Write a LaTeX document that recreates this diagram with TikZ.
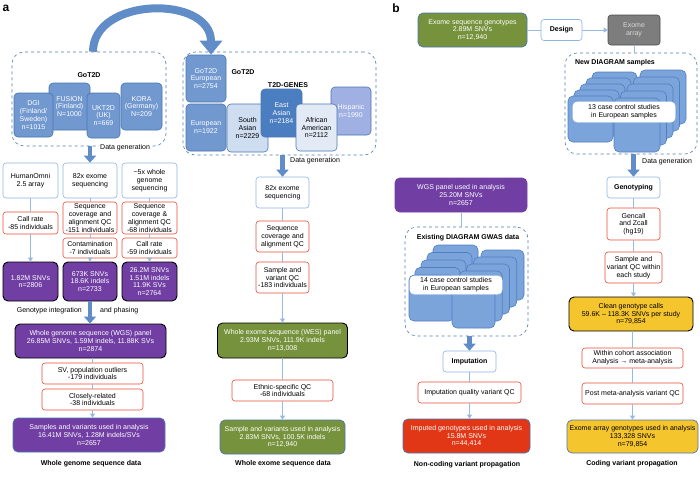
\documentclass[tikz,border=0pt]{standalone}
\usepackage{fontspec}
\setmainfont{Liberation Sans}
\usetikzlibrary{arrows.meta}

\definecolor{cohort}{RGB}{113,152,207}
\definecolor{cohortedge}{RGB}{74,118,176}
\definecolor{eastblue}{RGB}{74,126,192}
\definecolor{southblue}{RGB}{207,221,241}
\definecolor{afroblue}{RGB}{226,234,246}
\definecolor{hispblue}{RGB}{160,176,226}
\definecolor{stackblue}{RGB}{123,164,219}
\definecolor{stackedge}{RGB}{79,127,192}
\definecolor{vpurple}{RGB}{113,63,163}
\definecolor{volive}{RGB}{118,146,60}
\definecolor{vyellow}{RGB}{245,197,45}
\definecolor{vred}{RGB}{226,55,22}
\definecolor{vgray}{RGB}{125,125,125}
\definecolor{boxline}{RGB}{141,180,226}
\definecolor{qcline}{RGB}{232,78,56}
\definecolor{linkline}{RGB}{150,186,228}
\definecolor{dashline}{RGB}{82,122,176}
\definecolor{arrowblue}{RGB}{96,140,200}

\newcommand{\fs}{\fontsize{7}{7.8}\selectfont}

\tikzset{
	box/.style={draw=boxline, fill=white, rounded corners=3pt, align=center, inner sep=1pt, font=\fs, line width=0.6pt},
	boldbox/.style={box, font=\fs\bfseries},
	qcbox/.style={box, draw=qcline},
	cohortbox/.style={box, fill=cohort, draw=cohortedge, text=white, rounded corners=4pt},
	purplebox/.style={box, fill=vpurple, draw=black, line width=0.9pt, text=white, rounded corners=5pt},
	purplefinal/.style={purplebox, draw=cohortedge, line width=0.7pt},
	olivebox/.style={box, fill=volive, draw=black, line width=0.9pt, text=white, rounded corners=5pt},
	olivefinal/.style={olivebox, draw=cohortedge, line width=0.7pt},
	yellowbox/.style={box, fill=vyellow, draw=black, line width=0.9pt, rounded corners=5pt},
	yellowfinal/.style={yellowbox, draw=cohortedge, line width=0.7pt},
	redfinal/.style={box, fill=vred, draw=cohortedge, line width=0.7pt, text=white, rounded corners=5pt},
	graybox/.style={box, fill=vgray, draw=black!70, text=black!15},
	grp/.style={draw=dashline, dashed, rounded corners=12pt, line width=0.6pt, inner sep=0pt},
	stackbox/.style={draw=stackedge, fill=stackblue, rounded corners=5pt, line width=0.6pt},
	stacklab/.style={box, draw=white, rounded corners=4pt},
	note/.style={font=\fs, inner sep=1pt},
	bold/.style={font=\fs\bfseries, inner sep=1pt},
	title/.style={font=\fs\bfseries, inner sep=1pt},
	tag/.style={font=\fontsize{12}{12}\selectfont\bfseries, inner sep=0pt},
	link/.style={draw=linkline, line width=0.7pt},
	linkarr/.style={link, -{Triangle[length=4pt,width=5pt]}},
	blockarr/.style={draw=arrowblue, line width=4.5pt, -{Triangle[length=7pt,width=12pt]}},
	bigarc/.style={draw=arrowblue, line width=8pt, -{Triangle[length=14pt,width=22pt]}}
}

\begin{document}
\begin{tikzpicture}[x=1pt, y=-1pt]
	\useasboundingbox (0,0) rectangle (700,483);
	\node[tag] (taga) at (6,8) {a};
	\node[tag] (tagb) at (396,8) {b};

	\node[grp, minimum width=154pt, minimum height=94pt] (gotd) at (89,99) {};
	\node[bold] (gotdlab) at (89,75) {GoT2D};
	\node[cohortbox, minimum width=41pt, minimum height=47pt] (fusion) at (69.5,106.5) {FUSION\\(Finland)\\N=1000};
	\node[cohortbox, minimum width=41pt, minimum height=47pt] (kora) at (141.5,106.5) {KORA\\(Germany)\\N=209};
	\node[cohortbox, minimum width=39pt, minimum height=44pt] (dgi) at (33.5,115) {DGI\\(Finland/\\Sweden)\\n=1015};
	\node[cohortbox, minimum width=33pt, minimum height=45pt] (ukt) at (103.5,115.5) {UKT2D\\(UK)\\n=669};

	\node[grp, minimum width=193pt, minimum height=103pt] (genes) at (279.5,103.5) {};
	\node[cohortbox, minimum width=40pt, minimum height=47pt] (eurgot) at (206,78.5) {GoT2D\\European\\n=2754};
	\node[bold] (gotdlabb) at (243,72) {GoT2D};
	\node[bold] (geneslab) at (288,85) {T2D-GENES};
	\node[cohortbox, minimum width=40pt, minimum height=47pt] (eur) at (206,127.5) {European\\n=1922};
	\node[cohortbox, fill=hispblue, minimum width=40pt, minimum height=48pt] (hisp) at (351,111) {Hispanic\\n=1990};
	\node[cohortbox, fill=southblue, text=black, minimum width=41pt, minimum height=48pt] (sasian) at (247.5,128) {South\\Asian\\n=2229};
	\node[cohortbox, fill=eastblue, minimum width=41pt, minimum height=48pt] (easian) at (281.5,113) {East\\Asian\\n=2184};
	\node[cohortbox, fill=afroblue, text=black, minimum width=41pt, minimum height=47pt] (afam) at (316.5,127.5) {African\\American\\n=2112};

	\draw[bigarc] ([xshift=4pt]gotd.north) .. controls +(0,-55) and +(0,-60) .. ([xshift=5pt]eurgot.north);

	\node[box, minimum width=55pt, minimum height=35pt] (omni) at (30.5,180.5) {HumanOmni\\2.5 array};
	\node[box, minimum width=54pt, minimum height=35pt] (exoa) at (90,180.5) {82x exome\\sequencing};
	\node[box, minimum width=55pt, minimum height=35pt] (wgsfive) at (149.5,180.5) {\textasciitilde 5x whole\\genome\\sequencing};
	\draw[blockarr] (gotd.south -| exoa.north) -- (exoa.north);
	\node[note, fill=white, anchor=west] (dgena) at (99,147.5) {Data generation};

	\node[qcbox, minimum width=55pt, minimum height=22pt] (crfirst) at (30.5,223) {Call rate\\-85 individuals};
	\node[qcbox, minimum width=54pt, minimum height=32pt] (seqa) at (90,218) {Sequence\\coverage and\\alignment QC\\-151 individuals};
	\node[qcbox, minimum width=54pt, minimum height=20pt] (contam) at (90,248) {Contamination\\-7 individuals};
	\node[qcbox, minimum width=55pt, minimum height=32pt] (seqb) at (149.5,218) {Sequence\\coverage \&\\alignment QC\\-68 individuals};
	\node[qcbox, minimum width=55pt, minimum height=20pt] (crsecond) at (149.5,248) {Call rate\\-59 individuals};
	\node[purplebox, minimum width=55pt, minimum height=39pt] (snva) at (30.5,281.5) {1.82M SNVs\\n=2806};
	\node[purplebox, minimum width=54pt, minimum height=39pt] (snvb) at (90,281.5) {673K SNVs\\18.6K indels\\n=2733};
	\node[purplebox, minimum width=55pt, minimum height=39pt] (snvc) at (149.5,281.5) {26.2M SNVs\\1.51M indels\\11.9K SVs\\n=2764};
	\draw[link] (omni) -- (crfirst);
	\draw[linkarr] (crfirst) -- (snva);
	\draw[link] (exoa) -- (seqa);
	\draw[link] (seqa) -- (contam);
	\draw[linkarr] (contam) -- (snvb);
	\draw[link] (wgsfive) -- (seqb);
	\draw[link] (seqb) -- (crsecond);
	\draw[linkarr] (crsecond) -- (snvc);

	\node[purplebox, minimum width=151pt, minimum height=34pt] (wgspanel) at (90.5,341) {Whole genome sequence (WGS) panel\\26.85M SNVs, 1.59M indels, 11.88K SVs\\n=2874};
	\draw[blockarr] (snvb) -- (snvb |- wgspanel.north);
	\node[note, anchor=east] (integ) at (83,311) {Genotype integration};
	\node[note, anchor=west] (phase) at (99,311) {and phasing};
	\node[qcbox, minimum width=101pt, minimum height=21pt] (svout) at (92.5,373.5) {SV, population outliers\\-179 individuals};
	\node[qcbox, minimum width=101pt, minimum height=21pt] (closrel) at (92.5,399.5) {Closely-related\\-38 individuals};
	\node[purplefinal, minimum width=152pt, minimum height=34pt] (wgsfinal) at (89,435) {Samples and variants used in analysis\\16.41M SNVs, 1.28M indels/SVs\\n=2657};
	\draw[link] (wgspanel.south -| svout) -- (svout);
	\draw[link] (svout) -- (closrel);
	\draw[linkarr] (closrel) -- (closrel |- wgsfinal.north);
	\node[title] (wgstitle) at (91,464) {Whole genome sequence data};

	\node[box, minimum width=53pt, minimum height=31pt] (exob) at (282.5,192.5) {82x exome\\sequencing};
	\draw[blockarr] (genes.south -| exob.north) -- (exob.north);
	\node[note, anchor=west] (dgenb) at (289,161) {Data generation};
	\node[qcbox, minimum width=53pt, minimum height=31pt] (seqc) at (282.5,236.5) {Sequence\\coverage and\\alignment QC};
	\node[qcbox, minimum width=53pt, minimum height=31pt] (sampqc) at (282.5,277.5) {Sample and\\variant QC\\-183 individuals};
	\node[olivebox, minimum width=130pt, minimum height=35pt] (wespanel) at (282.5,340.5) {Whole exome sequence (WES) panel\\2.93M SNVs, 111.9K indels\\n=13,008};
	\node[qcbox, minimum width=101pt, minimum height=21pt] (ethqc) at (282.5,390.5) {Ethnic-specific QC\\-68 individuals};
	\node[olivefinal, minimum width=125pt, minimum height=34pt] (wesfinal) at (282.5,437) {Sample and variants used in analysis\\2.83M SNVs, 100.5K indels\\n=12,940};
	\draw[link] (exob) -- (seqc);
	\draw[link] (seqc) -- (sampqc);
	\draw[linkarr] (sampqc) -- (wespanel);
	\draw[link] (wespanel) -- (ethqc);
	\draw[linkarr] (ethqc) -- (wesfinal);
	\node[title] (westitle) at (283,464) {Whole exome sequence data};

	\node[olivefinal, minimum width=109pt, minimum height=34pt] (exgeno) at (472.5,30) {Exome sequence genotypes\\2.89M SNVs\\n=12,940};
	\node[boldbox, minimum width=41pt, minimum height=21pt] (design) at (561.5,30) {Design};
	\node[graybox, minimum width=52pt, minimum height=30pt] (exarray) at (634,30) {Exome\\array};
	\draw[link] (exgeno) -- (design);
	\draw[linkarr] (design) -- (exarray);

	\node[grp, minimum width=132pt, minimum height=101pt] (newdia) at (631,103.5) {};
	\draw[link] (exarray) -- (exarray |- newdia.north);
	\node[bold] (newlab) at (615,63) {New DIAGRAM samples};
	\draw[stackbox] (592,72) rectangle +(45,46);
	\draw[stackbox] (586,78) rectangle +(45,46);
	\draw[stackbox] (580,84) rectangle +(45,46);
	\draw[stackbox] (574,90) rectangle +(45,46);
	\draw[stackbox] (568,96) rectangle +(45,46);
	\draw[stackbox] (640,70) rectangle +(46,54);
	\draw[stackbox] (633.5,77) rectangle +(46,54);
	\draw[stackbox] (627,84) rectangle +(46,54);
	\draw[stackbox] (620.5,91) rectangle +(46,54);
	\draw[stackbox] (614,98) rectangle +(46,54);
	\node[stacklab, minimum width=102pt, minimum height=20pt] (studyb) at (624,112) {13 case control studies\\in European samples};

	\node[boldbox, minimum width=53pt, minimum height=21pt] (genotyping) at (633.5,187.5) {Genotyping};
	\draw[blockarr] (newdia.south -| genotyping.north) -- (genotyping.north);
	\node[note, anchor=west] (dgenc) at (641,162) {Data generation};
	\node[qcbox, minimum width=53pt, minimum height=32pt] (gencall) at (633.5,224) {Gencall\\and Zcall\\(hg19)};
	\node[qcbox, minimum width=57pt, minimum height=31pt] (sampqcb) at (633.5,267.5) {Sample and\\variant QC within\\each study};
	\node[yellowbox, minimum width=124pt, minimum height=34pt] (clean) at (631,314) {Clean genotype calls\\59.6K -- 118.3K SNVs per study\\n=79,854};
	\node[qcbox, minimum width=101pt, minimum height=20pt] (within) at (632.5,358) {Within cohort association\\Analysis → meta-analysis};
	\node[qcbox, minimum width=101pt, minimum height=21pt] (postqc) at (632.5,393.5) {Post meta-analysis variant QC};
	\node[yellowfinal, minimum width=131pt, minimum height=33pt] (exfinal) at (632.5,436.5) {Exome array genotypes used in analysis\\133,328 SNVs\\n=79,854};
	\draw[link] (genotyping) -- (gencall);
	\draw[link] (gencall) -- (sampqcb);
	\draw[linkarr] (sampqcb) -- (sampqcb |- clean.north);
	\draw[link] (clean.south -| within) -- (within);
	\draw[link] (within) -- (postqc);
	\draw[linkarr] (postqc) -- (exfinal);
	\node[title] (codtitle) at (632,464) {Coding variant propagation};

	\node[purplebox, draw=vpurple, minimum width=132pt, minimum height=34pt] (wgsused) at (461,195) {WGS panel used in analysis\\25.20M SNVs\\n=2657};
	\node[grp, minimum width=123pt, minimum height=109pt] (exist) at (466.5,281.5) {};
	\draw[link] (wgsused) -- (wgsused |- exist.north);
	\node[bold] (existlab) at (468,238) {Existing DIAGRAM GWAS data};
	\draw[stackbox] (433,245) rectangle +(45,46);
	\draw[stackbox] (427,252.5) rectangle +(45,46);
	\draw[stackbox] (421,260) rectangle +(45,46);
	\draw[stackbox] (415,267.5) rectangle +(45,46);
	\draw[stackbox] (409,275) rectangle +(45,46);
	\draw[stackbox] (481,250) rectangle +(43,50);
	\draw[stackbox] (473.75,257) rectangle +(43,50);
	\draw[stackbox] (466.5,264) rectangle +(43,50);
	\draw[stackbox] (459.25,271) rectangle +(43,50);
	\draw[stackbox] (452,278) rectangle +(43,50);
	\node[stacklab, minimum width=92pt, minimum height=18pt] (studya) at (456,285) {14 case control studies\\in European samples};

	\node[boldbox, minimum width=53pt, minimum height=21pt] (impute) at (469.5,361.5) {Imputation};
	\draw[blockarr] (exist.south -| impute.north) -- (impute.north);
	\node[qcbox, minimum width=103pt, minimum height=21pt] (impqc) at (469.5,392.5) {Imputation quality variant QC};
	\node[redfinal, minimum width=127pt, minimum height=34pt] (imputed) at (466.5,436) {Imputed genotypes used in analysis\\15.8M SNVs\\n=44,414};
	\draw[link] (impute) -- (impqc);
	\draw[linkarr] (impqc) -- (impqc |- imputed.north);
	\node[title] (nctitle) at (467,465) {Non-coding variant propagation};
\end{tikzpicture}
\end{document}
